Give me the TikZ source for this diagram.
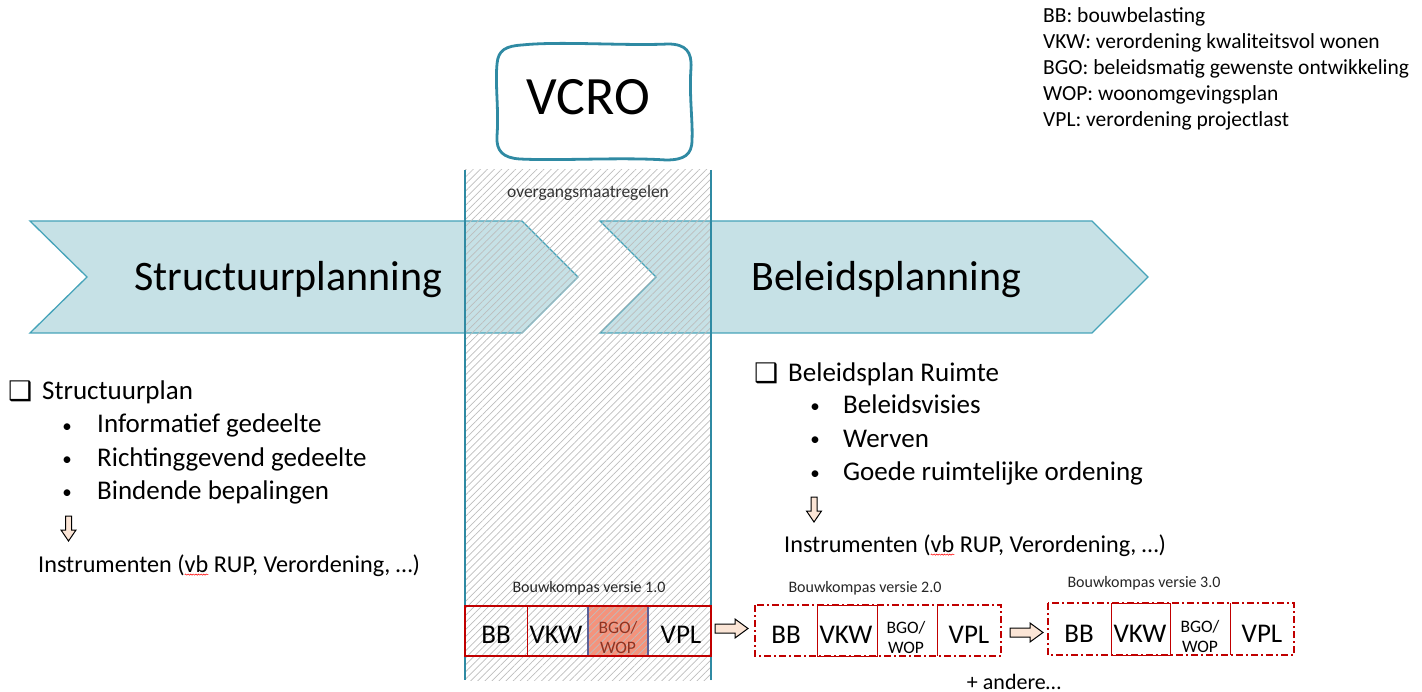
\documentclass[tikz,border=0pt]{standalone}
\usepackage{fontspec}
\setmainfont{Carlito}
\newfontfamily\dejavu{DejaVu Sans}
\usetikzlibrary{patterns.meta,decorations.pathmorphing}
\definecolor{tealline}{HTML}{2F8AA3}
\definecolor{chevfill}{HTML}{C6E1E6}
\definecolor{chevline}{HTML}{45A3B9}
\definecolor{redbox}{HTML}{C00000}
\definecolor{salmon}{HTML}{F4937C}
\definecolor{slate}{HTML}{5B5F97}
\definecolor{bgotext}{HTML}{8E3322}
\definecolor{peach}{HTML}{FBE5D6}
\newcommand\wavy[1]{\tikz[baseline=(w.base)]{\node[inner sep=0pt,outer sep=0pt](w){#1};\draw[overlay,red,decorate,decoration={snake,amplitude=0.6pt,segment length=2.6pt},line width=0.5pt]([yshift=-2.6pt]w.base west)--([yshift=-2.6pt]w.base east);}}
\begin{document}
\begin{tikzpicture}[x=1pt,y=-1pt,
  bw/.style={inner sep=0pt, anchor=base west},
  bc/.style={inner sep=0pt, anchor=base},
  chev/.style={fill=chevfill, draw=chevline, line width=1.3pt, line join=miter},
  big/.style={font=\fontsize{42}{48}\selectfont},
  leg/.style={bw, font=\fontsize{21.5}{24}\selectfont},
  li/.style={bw, font=\fontsize{27}{30}\selectfont},
  bul/.style={bc, font=\fontsize{19}{22}\selectfont},
  cbox/.style={bw, font=\dejavu\fontsize{27}{30}\selectfont},
  ins/.style={bw, font=\fontsize{24.2}{28}\selectfont},
  cellt/.style={bc, font=\fontsize{27}{30}\selectfont},
  smallt/.style={bc, font=\fontsize{17.5}{20}\selectfont},
  vers/.style={bc, font=\fontsize{16}{19}\selectfont, text=black!85},
  blockarrow/.style={fill=peach, draw=black, line width=1pt, line join=miter},
  redsolid/.style={draw=redbox, line width=0.9pt},
  dashdot/.style={draw=redbox, line width=1.6pt, dash pattern=on 7pt off 3pt on 2pt off 3pt}
]
\useasboundingbox (0,0) rectangle (1422,692);

% chevrons
\path[chev] (30,221) -- (522,221) -- (578,277) -- (522,333) -- (30,333) -- (87,277) -- cycle;
\path[chev] (600,221) -- (1092,221) -- (1148,277) -- (1092,333) -- (600,333) -- (656,277) -- cycle;

% salmon cell under hatch
\fill[salmon] (588,606) rectangle (648,656);

% hatch band
\fill[pattern={Lines[angle=45,distance=5pt,line width=0.7pt]}, pattern color=black!26] (465,170) rectangle (711,680);
\draw[tealline, line width=2.6pt] (465,170) -- (465,680);
\draw[tealline, line width=2.6pt] (711,170) -- (711,680);

% VCRO wobbly box
\draw[tealline, line width=2.8pt, line join=round]
  (522,45) .. controls (560,41) and (625,46) .. (668,44)
  .. controls (686,44) and (692,52) .. (691,68)
  .. controls (689,95) and (693,122) .. (692,140)
  .. controls (692,155) and (684,160) .. (666,160)
  .. controls (620,157) and (560,161) .. (520,159)
  .. controls (503,158) and (496,151) .. (497,136)
  .. controls (499,110) and (495,85) .. (497,64)
  .. controls (498,50) and (506,46) .. cycle;
\node[bc, font=\fontsize{54}{60}\selectfont] (vcro) at (588,115) {VCRO};
\node[bc, font=\fontsize{17.5}{20}\selectfont, text=black!80] (ovg) at (588,198) {overgangsmaatregelen};

% chevron labels
\node[bw, big] (sp) at (134,291) {Structuurplanning};
\node[bw, big] (bp) at (751,291) {Beleidsplanning};

% legend
\node[leg] (l1) at (1043,23) {BB: bouwbelasting};
\node[leg] (l2) at (1043,49) {VKW: verordening kwaliteitsvol wonen};
\node[leg] (l3) at (1043,75) {BGO: beleidsmatig gewenste ontwikkeling};
\node[leg] (l4) at (1043,101) {WOP: woonomgevingsplan};
\node[leg] (l5) at (1043,127) {VPL: verordening projectlast};

% left list
\node[cbox] (cbL) at (8,401) {❑};
\node[li] (stp) at (42,400) {Structuurplan};
\node[bul] (bl1) at (67,432) {•};
\node[li] (il1) at (97,433) {Informatief gedeelte};
\node[bul] (bl2) at (67,465) {•};
\node[li] (il2) at (97,466) {Richtinggevend gedeelte};
\node[bul] (bl3) at (67,498) {•};
\node[li] (il3) at (97,499) {Bindende bepalingen};
\path[blockarrow] (65.5,516) -- (71.5,516) -- (71.5,530) -- (76,530) -- (68.5,541) -- (61,530) -- (65.5,530) -- cycle;
\node[ins] (insL) at (38,572) {Instrumenten (\wavy{vb} RUP, Verordening, …)};

% right list
\node[cbox] (cbR) at (754,383) {❑};
\node[li] (brr) at (788,382) {Beleidsplan Ruimte};
\node[bul] (br1) at (815,413) {•};
\node[li] (ir1) at (843,414) {Beleidsvisies};
\node[bul] (br2) at (815,446) {•};
\node[li] (ir2) at (843,447) {Werven};
\node[bul] (br3) at (815,479) {•};
\node[li] (ir3) at (843,480) {Goede ruimtelijke ordening};
\path[blockarrow] (811,497) -- (817,497) -- (817,511) -- (821.5,511) -- (814,522) -- (806.5,511) -- (811,511) -- cycle;
\node[ins] (insR) at (784,552) {Instrumenten (\wavy{vb} RUP, Verordening, …)};

% Bouwkompas 1.0
\node[vers] (v1) at (589,592) {Bouwkompas versie 1.0};
\draw[redsolid] (527,606) -- (527,656);
\draw[redsolid] (648,606) -- (648,656);
\draw[slate, line width=1.6pt] (588,606) rectangle (648,656);
\draw[draw=redbox, line width=1.8pt] (465,606) rectangle (711,656);
\node[cellt] (c1a) at (496,643) {BB};
\node[cellt] (c1b) at (556,643) {VKW};
\node[smallt, text=bgotext] (c1c) at (618,633) {BGO/};
\node[smallt, text=bgotext] (c1d) at (618,653) {WOP};
\node[cellt] (c1e) at (681,643) {VPL};

% arrow 1
\path[blockarrow] (715,624) -- (735,624) -- (735,619) -- (748,628.5) -- (735,638) -- (735,633) -- (715,633) -- cycle;

% Bouwkompas 2.0
\node[vers] (v2) at (865,592) {Bouwkompas versie 2.0};
\draw[redsolid] (817,605) rectangle (877,656);
\draw[redsolid] (937,605) -- (937,656);
\draw[dashdot] (755,605) rectangle (1001,656);
\node[cellt] (c2a) at (786,643) {BB};
\node[cellt] (c2b) at (846,643) {VKW};
\node[smallt] (c2c) at (906,633) {BGO/};
\node[smallt] (c2d) at (906,653) {WOP};
\node[cellt] (c2e) at (969,643) {VPL};

% arrow 2
\path[blockarrow] (1010,628) -- (1030,628) -- (1030,623) -- (1043,632.5) -- (1030,642) -- (1030,637) -- (1010,637) -- cycle;

% Bouwkompas 3.0
\node[vers] (v3) at (1144,587) {Bouwkompas versie 3.0};
\draw[redsolid] (1111,603) rectangle (1170,655);
\draw[redsolid] (1230,603) -- (1230,655);
\draw[dashdot] (1048,603) rectangle (1294,655);
\node[cellt] (c3a) at (1079,642) {BB};
\node[cellt] (c3b) at (1140,642) {VKW};
\node[smallt] (c3c) at (1200,632) {BGO/};
\node[smallt] (c3d) at (1200,652) {WOP};
\node[cellt] (c3e) at (1262,642) {VPL};

\node[bc, font=\fontsize{22}{26}\selectfont] (andere) at (1014,689) {+ andere…};
\end{tikzpicture}
\end{document}
